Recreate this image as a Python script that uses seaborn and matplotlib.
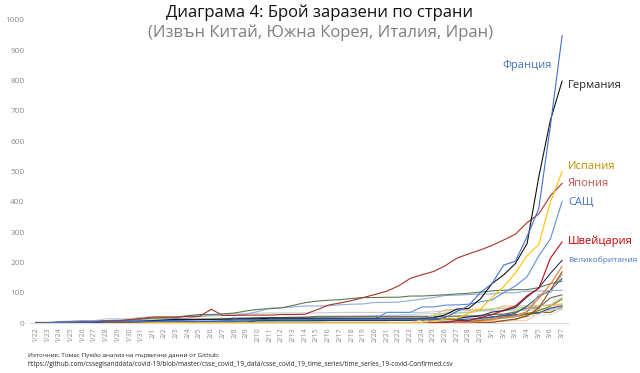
import numpy as np
import pandas as pd
import matplotlib
matplotlib.use("Agg")
import matplotlib.pyplot as plt
import seaborn as sns

# ========== Data ==========
dates = ["1/22", "1/23", "1/24", "1/25", "1/26", "1/27", "1/28", "1/29", "1/30", "1/31",
         "2/1", "2/2", "2/3", "2/4", "2/5", "2/6", "2/7", "2/8", "2/9", "2/10",
         "2/11", "2/12", "2/13", "2/14", "2/15", "2/16", "2/17", "2/18", "2/19", "2/20",
         "2/21", "2/22", "2/23", "2/24", "2/25", "2/26", "2/27", "2/28", "2/29", "3/1",
         "3/2", "3/3", "3/4", "3/5", "3/6", "3/7"]

france = [0, 0, 2, 3, 3, 3, 4, 5, 5, 5, 6, 6, 6, 6, 6, 6, 6, 11, 11, 11, 11, 11, 11, 11,
          12, 12, 12, 12, 12, 12, 12, 12, 12, 12, 14, 18, 38, 57, 100, 130, 191, 204, 285, 377, 653, 949]
germany = [0, 0, 0, 0, 0, 1, 4, 4, 4, 5, 8, 10, 12, 12, 12, 12, 13, 13, 14, 14,
           16, 16, 16, 16, 16, 16, 16, 16, 16, 16, 16, 16, 16, 16,
           17, 27, 46, 48, 79, 130, 159, 196, 262, 482, 670, 799]
spain = [0] * 10 + [1] * 8 + [2] * 16 + [6, 13, 15, 32, 45, 84, 120, 165, 222, 259, 400, 500]
japan = [2, 1, 2, 2, 4, 4, 7, 7, 11, 15, 20, 20, 20, 22, 22, 45, 25, 25, 26, 26,
         26, 28, 28, 29, 43, 59, 66, 74, 84, 94, 105, 122, 147, 159, 170, 189, 214, 228, 241, 256,
         274, 293, 331, 360, 420, 461]
usa = [1, 1, 2, 2, 5, 5, 5, 5, 5, 7, 8, 8, 11, 11, 11, 11, 11, 11, 11, 11,
       12, 12, 13, 13, 13, 13, 13, 13, 13, 13, 35, 35, 35, 53, 53, 59, 60, 62, 70, 76,
       100, 122, 153, 221, 278, 402]
switzerland = [0] * 34 + [1, 1, 8, 8, 18, 27, 42, 56, 90, 114, 214, 268]
uk = [0] * 9 + [2] * 7 + [3, 3, 3, 8, 8] + [9] * 12 + [13, 13, 13, 15, 20, 23, 36, 40, 51, 86, 116, 164, 207]
netherlands = [0] * 36 + [1, 1, 6, 10, 18, 24, 38, 82, 128, 188]
singapore = [0, 1, 3, 3, 4, 5, 7, 7, 10, 13, 16, 18, 18, 24, 28, 28, 30, 33, 40, 45,
             47, 50, 58, 67, 72, 75, 77, 81, 84, 84, 85, 85, 89, 89, 91, 93, 96, 98, 102, 106,
             108, 110, 110, 117, 130, 138]
hong_kong = [0, 2, 2, 5, 8, 8, 8, 10, 10, 13, 14, 15, 15, 17, 21, 24, 25, 26, 29, 38,
             49, 50, 53, 56, 56, 57, 60, 62, 63, 68, 68, 69, 74, 79, 84, 91, 92, 94, 95, 96,
             100, 100, 105, 105, 107, 108]
sweden = [0] * 9 + [1] * 26 + [2, 7, 7, 12, 14, 15, 21, 35, 94, 101, 161]
norway = [0] * 35 + [1, 1, 6, 15, 19, 25, 32, 56, 87, 108, 147]
belgium = [0] * 13 + [1] * 26 + [2, 8, 13, 23, 50, 109, 169]
bahrain = [0] * 33 + [1, 23, 33, 33, 36, 41, 47, 49, 49, 52, 55, 60, 85]
kuwait = [0] * 33 + [11, 26, 43, 45, 45, 45, 45, 56, 56, 56, 58, 58, 61]
malaysia = [0, 0, 3, 3, 4, 4, 4, 7, 8, 8, 8, 8, 8, 10, 12, 12, 12, 16, 16, 18,
            18, 18, 19, 19] + [22] * 12 + [23, 23, 25, 29, 29, 36, 50, 50, 83, 93]
austria = [0] * 34 + [2, 2, 3, 3, 9, 14, 18, 21, 29, 41, 55, 79]
australia = [0, 0, 0, 0, 4, 5, 5, 6, 9, 9, 12, 12, 12, 13, 13, 14] + [15] * 20 + \
            [23, 23, 25, 27, 30, 39, 52, 55, 60, 63]
canada = [0, 0, 0, 0, 0, 1, 2, 2, 2, 4, 4, 4, 4, 5, 5, 5, 7, 7, 7, 7,
          7, 7, 7, 7, 7, 8, 8, 8, 8, 8, 8, 9, 9, 9, 10, 11, 11, 13, 14, 20,
          24, 27, 30, 33, 49, 57]
thailand = [2, 3, 5, 7, 8, 8, 14, 14, 14, 19, 19, 19, 19, 25, 25, 25, 25, 32, 32, 32,
            33, 33, 33, 33, 33, 34, 35, 35, 35, 35, 35, 35, 35, 35, 37, 40, 40, 41, 42, 42,
            43, 43, 43, 47, 48, 50]
taiwan = [1, 1, 3, 3, 4, 5, 8, 8, 9, 10, 10, 10, 10, 11, 11, 16, 16, 16, 17, 18,
          18, 18, 18, 18, 18, 18, 20, 22, 23, 24, 26, 26, 28, 30, 31, 32, 32, 34, 39, 40,
          41, 42, 42, 44, 45, 45]
greece = [0] * 35 + [1, 3, 4, 4, 7, 7, 7, 9, 31, 45, 66]
iraq = [0] * 33 + [1, 1, 5, 6, 7, 8, 13, 19, 26, 32, 35, 35, 54]
iceland = [0] * 37 + [1, 1, 3, 6, 11, 26, 34, 43, 50]
uae = [0, 0, 0, 0, 0, 0, 0, 4, 4, 4, 4, 5, 5, 5, 5, 5, 5, 5, 7, 7,
       8, 8, 8, 8, 8, 8, 9, 9, 9, 9, 9, 11, 13, 13, 13, 13, 13, 19, 19, 19,
       21, 21, 21, 27, 27, 45]

series = {
    "Франция": france, "Германия": germany, "Испания": spain, "Япония": japan,
    "САЩ": usa, "Швейцария": switzerland, "Великобритания": uk,
    "Холандия": netherlands, "Сингапур": singapore, "Хонконг": hong_kong,
    "Швеция": sweden, "Норвегия": norway, "Белгия": belgium, "Бахрейн": bahrain,
    "Кувейт": kuwait, "Малайзия": malaysia, "Австрия": austria, "Австралия": australia,
    "Канада": canada, "Тайланд": thailand, "Тайван": taiwan, "Гърция": greece,
    "Ирак": iraq, "Исландия": iceland, "ОАЕ": uae,
}

colors = {
    "Франция": "#3f6fd0", "Германия": "#111111", "Испания": "#ffc000", "Япония": "#a8322a",
    "САЩ": "#5b8fd9", "Швейцария": "#b80d1a", "Великобритания": "#203864",
    "Холандия": "#ed7d31", "Сингапур": "#5e7a4e", "Хонконг": "#8faadc",
    "Швеция": "#a5a5a5", "Норвегия": "#255e91", "Белгия": "#9e480e", "Бахрейн": "#a9d18e",
    "Кувейт": "#f4b183", "Малайзия": "#636363", "Австрия": "#997300", "Австралия": "#ffd966",
    "Канада": "#2f5597", "Тайланд": "#c9c9c9", "Тайван": "#bdd7ee", "Гърция": "#f8cbad",
    "Ирак": "#7f6000", "Исландия": "#70ad47", "ОАЕ": "#d6dce5",
}

# labels at the right end: (text colour, font size, offset in px, alignment)
labels = {
    "Франция": ("#4472c4", 8, (-10, -30), "right"),
    "Германия": ("#262626", 8, (6, -5), "left"),
    "Испания": ("#bf9000", 8, (6, 5), "left"),
    "Япония": ("#c0504d", 8, (6, 0), "left"),
    "САЩ": ("#4472c4", 8, (6, -1), "left"),
    "Швейцария": ("#c00000", 8, (6, 1), "left"),
    "Великобритания": ("#4472c4", 6, (6, 0), "left"),
}

rows = []
for name, vals in series.items():
    for i, v in enumerate(vals):
        rows.append({"country": name, "idx": i, "cases": v})
df = pd.DataFrame(rows)

# ========== Plot ==========
sns.set_theme(style="white")
plt.rcParams["font.family"] = ["Open Sans", "DejaVu Sans"]

fig = plt.figure(figsize=(6.4, 3.73), dpi=100)
ax = fig.add_axes([30 / 640, 50 / 373, 538 / 640, 303 / 373])

# draw small series first so the labelled ones sit on top
order = list(series.keys())[::-1]
sns.lineplot(data=df, x="idx", y="cases", hue="country", hue_order=order,
             palette=colors, linewidth=0.8, legend=False, ax=ax)

ax.set_xlim(-0.5, len(dates) - 0.5)
ax.set_ylim(0, 1000)
ax.set_yticks(np.arange(0, 1001, 100))
ax.set_xticks(range(len(dates)))
ax.set_xticklabels(dates, rotation=90)
ax.tick_params(axis="y", labelsize=6, colors="#8c8c8c", length=0, pad=4)
ax.tick_params(axis="x", labelsize=5, colors="#8c8c8c", length=0, pad=3)
ax.set_xlabel("")
ax.set_ylabel("")
for s in ["top", "right", "left"]:
    ax.spines[s].set_visible(False)
ax.spines["bottom"].set_color("#d9d9d9")
ax.spines["bottom"].set_linewidth(0.8)

last = len(dates) - 1
for name, (tc, fs, off, ha) in labels.items():
    ax.annotate(name, xy=(last, series[name][-1]), xytext=(off[0] * 0.72, off[1] * 0.72),
                textcoords="offset points", ha=ha, va="center", fontsize=fs, color=tc,
                annotation_clip=False)

fig.text(0.5, 0.965, "Диаграма 4: Брой заразени по страни", ha="center", va="center",
         fontsize=12, color="#111111")
fig.text(0.5, 0.911, "(Извън Китай, Южна Корея, Италия, Иран)", ha="center", va="center",
         fontsize=12, color="#7f7f7f")
fig.text(28 / 640, 1 - 355 / 373, "Източник: Томас Пуейо анализ на първични данни от Github:",
         ha="left", va="center", fontsize=4.6, color="#262626")
fig.text(28 / 640, 1 - 365 / 373,
         "https://github.com/cssegisanddata/covid-19/blob/master/csse_covid_19_data/csse_covid_19_time_series/time_series_19-covid-Confirmed.csv",
         ha="left", va="center", fontsize=4.7, color="#262626")

fig.savefig("out.png", dpi=100)
